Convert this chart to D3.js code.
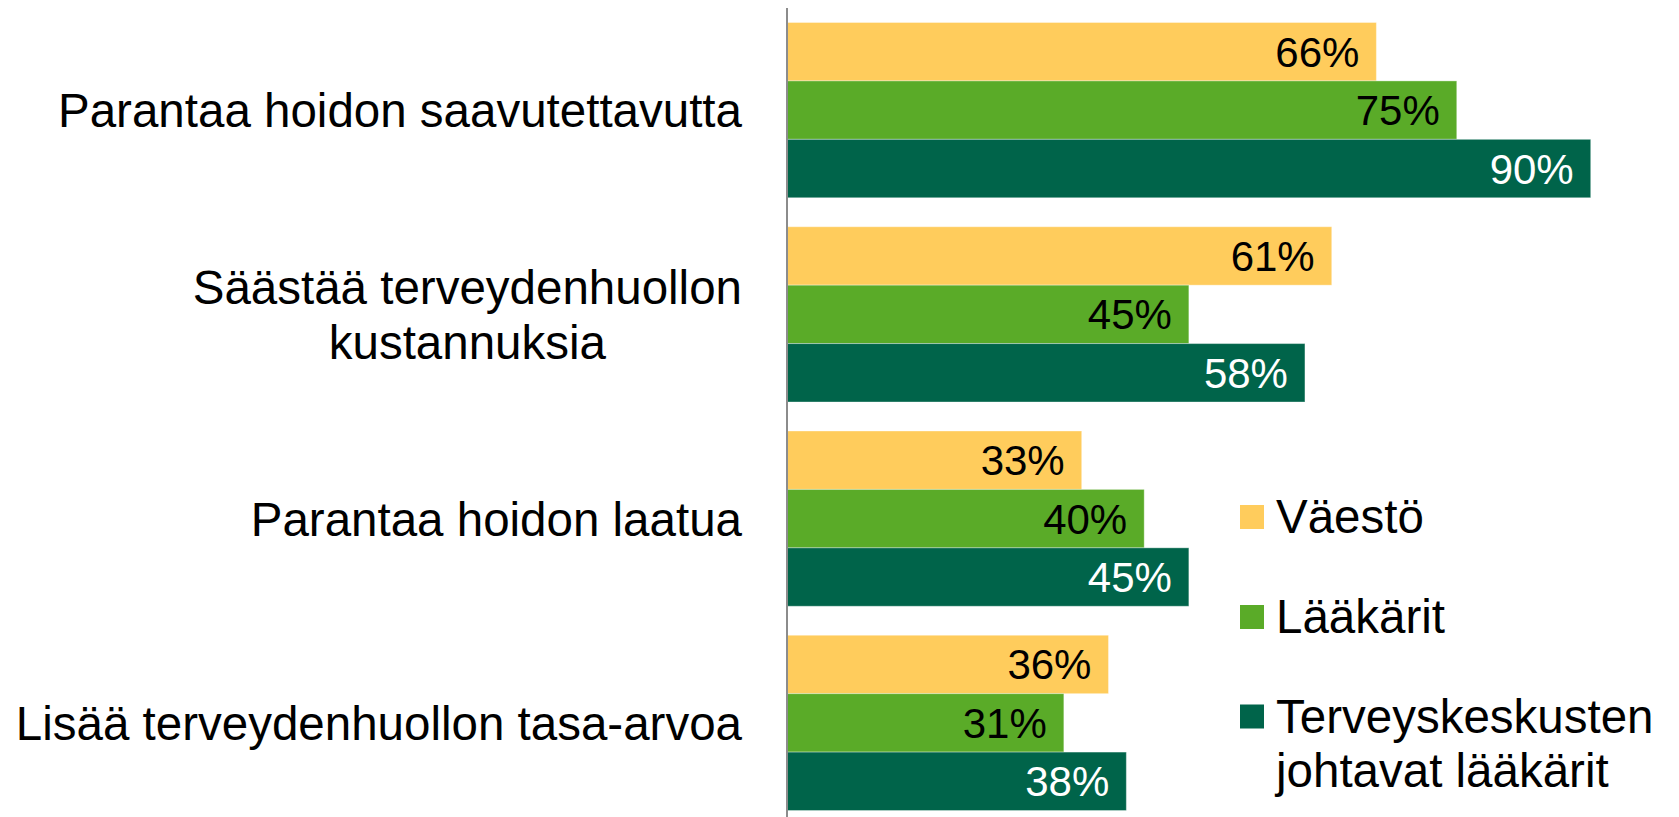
<!DOCTYPE html>
<html>
<head>
<meta charset="utf-8">
<script src="https://cdn.jsdelivr.net/npm/d3@7/dist/d3.min.js"></script>
<style>
  html, body { margin: 0; padding: 0; background: #fff; }
  svg { display: block; font-family: "Liberation Sans", Arial, sans-serif; }
</style>
</head>
<body>
<svg id="chart" width="1679" height="817"></svg>
<script>
const categories = [
  ["Parantaa hoidon saavutettavutta"],
  ["Säästää terveydenhuollon", "kustannuksia"],
  ["Parantaa hoidon laatua"],
  ["Lisää terveydenhuollon tasa-arvoa"]
];
const seriesNames = [["Väestö"], ["Lääkärit"], ["Terveyskeskusten", "johtavat lääkärit"]];
const vaesto = [66, 61, 33, 36];
const laakarit = [75, 45, 40, 31];
const johtavat = [90, 58, 45, 38];
const seriesValues = [vaesto, laakarit, johtavat];
const colors = ["#FFCC5C", "#5AAB28", "#00644A"];
const labelColors = ["#000", "#000", "#fff"];

const W = 1679, H = 817;
const svg = d3.select("#chart");

const axisX = 787;
const x = d3.scaleLinear().domain([0, 100]).range([axisX, axisX + 893]);
const catIdx = d3.range(categories.length);
const y = d3.scaleBand().domain(catIdx).range([8, 825]).paddingInner(0.142).paddingOuter(0.071);
const ySub = d3.scaleBand().domain(d3.range(seriesValues.length)).range([0, y.bandwidth()]);

// bars
const groups = svg.append("g").selectAll("g.grp").data(catIdx).join("g")
  .attr("transform", i => `translate(0,${y(i)})`);

seriesValues.forEach((vals, s) => {
  groups.append("rect")
    .attr("x", x(0))
    .attr("y", ySub(s))
    .attr("width", i => x(vals[i]) - x(0))
    .attr("height", ySub.bandwidth())
    .attr("fill", colors[s])
    .attr("stroke", "rgba(255,255,255,0.35)")
    .attr("stroke-width", 1);
  groups.append("text")
    .attr("x", i => x(vals[i]) - 17)
    .attr("y", ySub(s) + ySub.bandwidth() / 2 + 15)
    .attr("text-anchor", "end")
    .attr("font-size", 42)
    .attr("fill", labelColors[s])
    .text(i => vals[i] + "%");
});

// axis line
svg.append("line")
  .attr("x1", axisX).attr("x2", axisX)
  .attr("y1", 8).attr("y2", H)
  .attr("stroke", "#8c8c8c").attr("stroke-width", 2);

// category labels
const labelRight = 742;
const lineH = 55;
catIdx.forEach(i => {
  const lines = categories[i];
  const g = svg.append("g");
  const cy = y(i) + y.bandwidth() / 2;
  const texts = lines.map((ln, k) => g.append("text")
    .attr("font-size", 47.5)
    .attr("fill", "#000")
    .attr("y", cy + 17 + (k - (lines.length - 1) / 2) * lineH)
    .text(ln));
  const maxW = d3.max(texts, t => t.node().getComputedTextLength());
  texts.forEach(t => t.attr("text-anchor", "middle").attr("x", labelRight - maxW / 2));
});

// legend
const legendY = [517, 617, 716.5];
seriesNames.forEach((nm, s) => {
  svg.append("rect")
    .attr("x", 1240).attr("y", legendY[s] - 12)
    .attr("width", 24).attr("height", 24)
    .attr("fill", colors[s]);
  nm.forEach((ln, k) => {
    svg.append("text")
      .attr("x", 1276)
      .attr("y", legendY[s] + 16 + k * 54)
      .attr("font-size", 47.5)
      .attr("fill", "#000")
      .text(ln);
  });
});
</script>
</body>
</html>
